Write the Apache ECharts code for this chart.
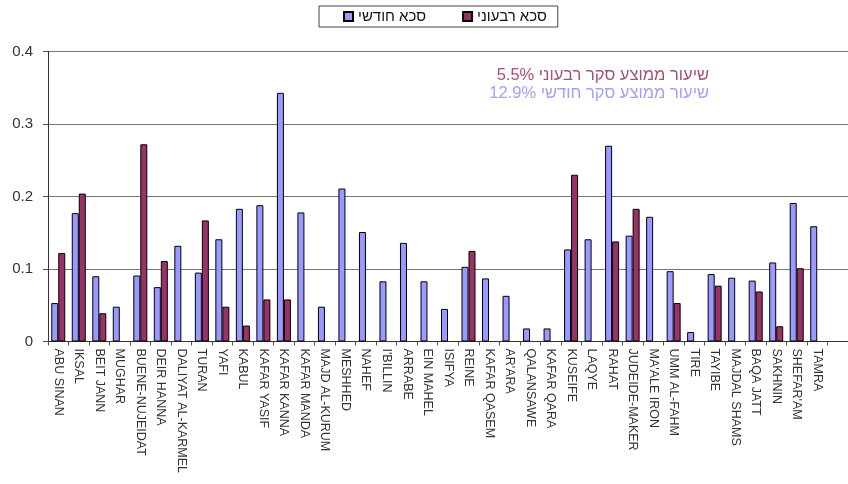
<!DOCTYPE html>
<html>
<head>
<meta charset="UTF-8">
<title>סכא</title>
<script src="https://cdn.jsdelivr.net/npm/echarts@6/dist/echarts.min.js"></script>
<style>
body { margin:0; background:#fff; }
#main { width:848px; height:484px; }
</style>
</head>
<body>
<div id="main"></div>
<script type="text/javascript">
// ישובים
var towns = ['ABU SINAN','IKSAL','BEIT JANN','MUGHAR','BUENE-NUJEIDAT','DEIR HANNA','DALIYAT AL-KARMEL',
  'TURAN','YAFI','KABUL','KAFAR YASIF','KAFAR KANNA','KAFAR MANDA','MAJD AL-KURUM','MESHHED','NAHEF',
  "I'BILLIN",'ARRABE','EIN MAHEL','ISIFYA','REINE','KAFAR QASEM',"AR'ARA",'QALANSAWE','KAFAR QARA',
  'KUSEIFE','LAQYE','RAHAT','JUDEIDE-MAKER',"MA'ALE IRON",'UMM AL-FAHM','TIRE','TAYIBE','MAJDAL SHAMS',
  'BAQA JATT','SAKHNIN',"SHEFAR'AM",'TAMRA',''];
// סכא חודשי
var monthly = [0.053,0.177,0.090,0.048,0.091,0.075,0.132,0.095,0.141,0.183,0.188,0.343,0.178,0.048,
  0.211,0.151,0.083,0.136,0.083,0.045,0.103,0.087,0.063,0.018,0.018,0.127,0.141,0.270,0.146,0.172,
  0.097,0.013,0.093,0.088,0.084,0.109,0.191,0.159,null];
// סכא רבעוני
var quarterly = [0.122,0.204,0.039,null,0.272,0.111,null,0.167,0.048,0.022,0.058,0.058,null,null,
  null,null,null,null,null,null,0.125,null,null,null,null,0.230,null,0.138,0.183,null,
  0.053,null,0.077,null,0.069,0.021,0.101,null,null];
var yTicks = [0, 0.1, 0.2, 0.3, 0.4];
var notes = ['5.5% שיעור ממוצע סקר רבעוני', '12.9% שיעור ממוצע סקר חודשי'];

var font = 'Liberation Sans';
var myChart = echarts.init(document.getElementById('main'));
var option = {
  backgroundColor: '#fff',
  animation: false,
  textStyle: { fontFamily: font },
  legend: {
    left: 319, top: 6,
    padding: [3, 11, 3, 24],
    itemGap: 36,
    itemWidth: 9, itemHeight: 9,
    borderColor: '#444', borderWidth: 1,
    icon: 'rect',
    textStyle: { fontFamily: font, fontSize: 15, color: '#111' },
    data: ['סכא חודשי', 'סכא רבעוני']
  },
  graphic: [
    { type: 'text', right: 139, top: 67, style: { text: notes[0], fill: '#a3527c', font: '16.5px ' + font } },
    { type: 'text', right: 139, top: 85, style: { text: notes[1], fill: '#a0a0ff', font: '16.5px ' + font } }
  ],
  grid: { left: 48, top: 51.5, width: 807, bottom: 142.5 },
  xAxis: {
    type: 'category',
    data: towns,
    axisLine: { lineStyle: { color: '#333', width: 1 } },
    axisTick: { show: true, length: 4, lineStyle: { color: '#555' } },
    axisLabel: { rotate: -90, interval: 0, fontSize: 12.5, color: '#333', margin: 7 }
  },
  yAxis: {
    type: 'value',
    min: yTicks[0], max: yTicks[yTicks.length - 1], interval: 0.1,
    axisLine: { show: true, lineStyle: { color: '#333' } },
    axisTick: { show: true, length: 5, lineStyle: { color: '#555' } },
    axisLabel: { fontSize: 15, color: '#333', margin: 15 },
    splitLine: { lineStyle: { color: '#777', width: 1 } }
  },
  series: [
    {
      name: 'סכא חודשי', type: 'bar', data: monthly,
      barWidth: 7, barGap: '0%',
      itemStyle: { color: '#9999ff', borderColor: '#000', borderWidth: 1 }
    },
    {
      name: 'סכא רבעוני', type: 'bar', data: quarterly,
      barWidth: 7,
      itemStyle: { color: '#993366', borderColor: '#000', borderWidth: 1 }
    }
  ]
};
myChart.setOption(option);
</script>
</body>
</html>
